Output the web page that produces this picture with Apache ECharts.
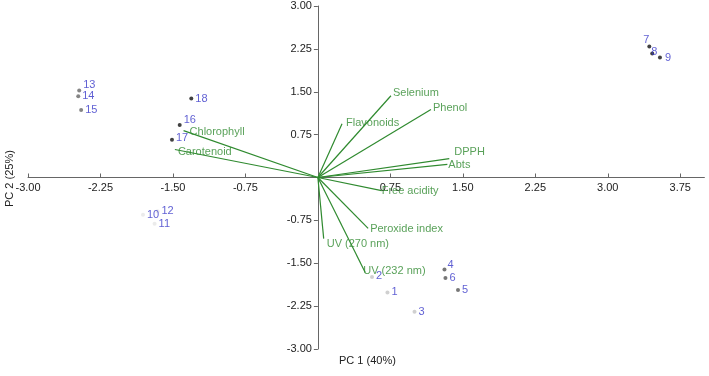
<!DOCTYPE html>
<html><head><meta charset="utf-8">
<script src="https://cdn.jsdelivr.net/npm/echarts@6/dist/echarts.min.js"></script>
<style>html,body{margin:0;padding:0;background:#fff}#c{width:709px;height:376px}</style>
</head><body><div id="c"></div>
<script>
// Sample scores (PC1, PC2)
const sampleNames = ['1','2','3','4','5','6','7','8','9','10','11','12','13','14','15','16','17','18'];
const pc1Scores = [0.72,0.56,1.00,1.31,1.45,1.32,3.43,3.46,3.54,-1.81,-1.69,-1.66,-2.47,-2.48,-2.45,-1.43,-1.51,-1.31];
const pc2Scores = [-2.01,-1.74,-2.35,-1.61,-1.97,-1.76,2.29,2.17,2.10,-0.65,-0.81,-0.59,1.52,1.42,1.18,0.92,0.66,1.38];
const sampleGroup = ['A','A','A','B','B','B','C','C','C','D','D','D','E','E','E','F','F','F'];
// Variable loadings (biplot vectors)
const varNames = ['Selenium','Phenol','Flavonoids','DPPH','Abts','Free acidity','Peroxide index','UV (270 nm)','UV (232 nm)','Chlorophyll','Carotenoid'];
const varPC1 = [0.756,1.17,0.25,1.36,1.34,0.66,0.52,0.06,0.49,-1.39,-1.48];
const varPC2 = [1.43,1.19,0.94,0.33,0.23,-0.23,-0.89,-1.07,-1.66,0.82,0.49];
const tickValues = [-3,-2.25,-1.5,-0.75,0.75,1.5,2.25,3,3.75];
const yTickValues = [-3,-2.25,-1.5,-0.75,0.75,1.5,2.25,3];

const groupColor = {A:'#c4c4c4',B:'#555555',C:'#111111',D:'#e6e6e6',E:'#666666',F:'#111111'};
const labelOffset = {'13':[0,-6],'16':[0,-5],'17':[0,-2],'7':[-10,-7],'8':[-5,-1],'9':[1,1],'4':[-1,-5],'2':[0,-1]};
const varLabelOffset = {'Selenium':[2,-3],'Phenol':[2,-2],'Flavonoids':[4,-1],'DPPH':[5,-7],'Abts':[1,1],
  'Free acidity':[0,0],'Peroxide index':[2,1],'UV (270 nm)':[3,5],'UV (232 nm)':[-2,-1],'Chlorophyll':[6,1],'Carotenoid':[3,2]};

const FONT = 'Liberation Sans, Arial, sans-serif';
const axisCol = '#666';
const green = '#2f8a2f';
const blue = '#3737c8';

const GL = 28, GT = 6, GW = 676.4, GH = 343;

const scatterData = sampleNames.map((n,i)=>({
  value:[pc1Scores[i],pc2Scores[i]], name:n,
  itemStyle:{color:groupColor[sampleGroup[i]]},
  label:{offset:labelOffset[n]||[0,0]}
}));
const lineData = varNames.map((n,i)=>[{coord:[0,0]},{coord:[varPC1[i],varPC2[i]]}]);
const varLabelData = varNames.map((n,i)=>({
  value:[varPC1[i],varPC2[i]], name:n,
  label:{offset:varLabelOffset[n]||[0,0]}
}));

const chart = echarts.init(document.getElementById('c'));
chart.setOption({
  animation:false,
  textStyle:{fontFamily:FONT},
  grid:{left:GL,top:GT,width:GW,height:GH,containLabel:false,outerBoundsMode:'none'},
  xAxis:{type:'value',min:-3,max:4,splitLine:{show:false},position:'bottom',
    offset:-(GH*0.5),
    axisLine:{onZero:false,lineStyle:{color:axisCol,width:1}},
    axisTick:{show:true,inside:true,length:4,customValues:tickValues,lineStyle:{color:axisCol}},
    axisLabel:{customValues:tickValues,formatter:v=>v.toFixed(2),color:'#222',fontSize:11,margin:5,fontFamily:FONT}},
  yAxis:{type:'value',min:-3,max:3,splitLine:{show:false},position:'left',
    offset:-(GW*3/7),
    axisLine:{onZero:false,lineStyle:{color:axisCol,width:1}},
    axisTick:{show:true,length:4,customValues:yTickValues,lineStyle:{color:axisCol}},
    axisLabel:{customValues:yTickValues,formatter:v=>v.toFixed(2),color:'#222',fontSize:11,margin:6,fontFamily:FONT}},
  graphic:[
    {type:'text',left:339,top:355,style:{text:'PC 1 (40%)',font:'11px '+FONT,fill:'#222'}},
    {type:'text',x:4,y:207,rotation:Math.PI/2,style:{text:'PC 2 (25%)',font:'11px '+FONT,fill:'#222'}}
  ],
  series:[
    {type:'scatter',data:[],silent:true,
      markLine:{silent:true,symbol:['none','none'],animation:false,label:{show:false},
        lineStyle:{color:green,width:1.2,type:'solid'},emphasis:{disabled:true},data:lineData}},
    {type:'scatter',data:varLabelData,symbolSize:0,silent:true,
      label:{show:true,position:'right',distance:0,formatter:p=>p.name,color:green,fontSize:11,fontFamily:FONT}},
    {type:'scatter',data:scatterData,symbolSize:4,silent:true,
      label:{show:true,position:'right',distance:2,formatter:p=>p.name,color:blue,fontSize:11,fontFamily:FONT}}
  ]
});
</script></body></html>
